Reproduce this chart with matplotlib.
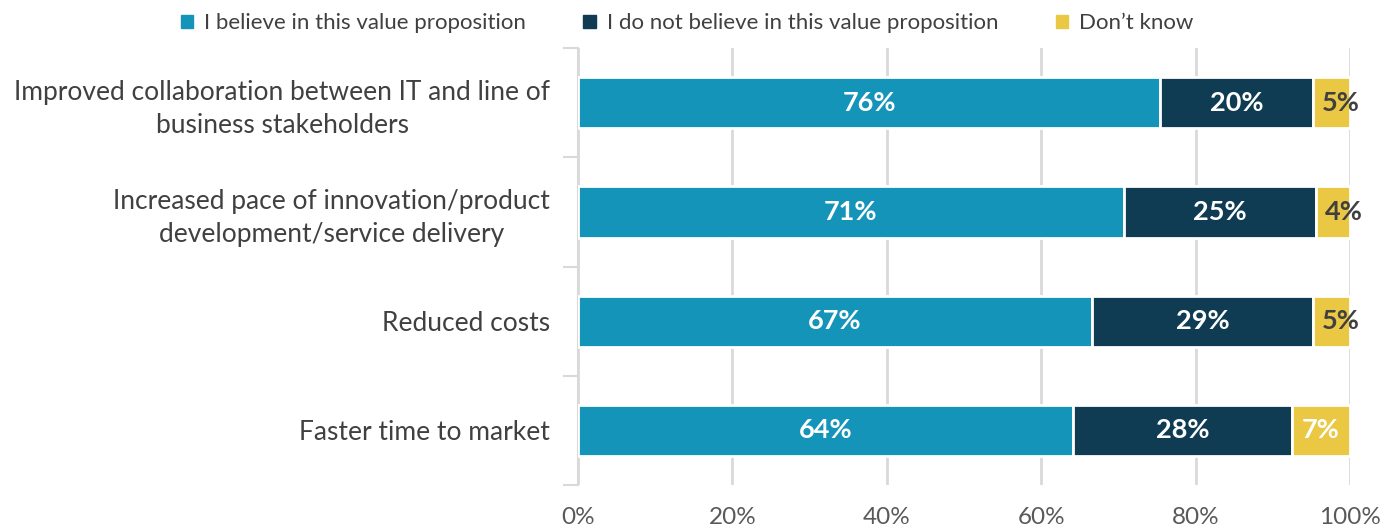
import numpy as np
import matplotlib.pyplot as plt
from matplotlib.patches import Patch

plt.rcParams['font.family'] = ['Lato', 'DejaVu Sans']

categories = ['Improved collaboration between IT and line of\nbusiness stakeholders',
              'Increased pace of innovation/product\ndevelopment/service delivery',
              'Reduced costs',
              'Faster time to market']
believe = [75.4, 70.7, 66.6, 64.1]
not_believe = [19.8, 24.9, 28.6, 28.4]
dont_know = [4.8, 4.4, 4.8, 7.5]
believe_lbl = ['76%', '71%', '67%', '64%']
not_believe_lbl = ['20%', '25%', '29%', '28%']
dont_know_lbl = ['5%', '4%', '5%', '7%']
series_names = ['I believe in this value proposition',
                'I do not believe in this value proposition',
                'Don\u2019t know']
colors = ['#1594BA', '#0F3C53', '#EAC843']

fig = plt.figure(figsize=(13.91, 5.27), dpi=100)
ax = fig.add_axes([0.4155, 0.0797, 0.555, 0.829])

y = np.arange(len(categories))
left = np.zeros(len(categories))
series = [believe, not_believe, dont_know]
labels = [believe_lbl, not_believe_lbl, dont_know_lbl]
for i, (vals, lbls) in enumerate(zip(series, labels)):
    vals = np.array(vals)
    ax.barh(y, vals, left=left, height=0.47, color=colors[i],
            edgecolor='white', linewidth=2, zorder=3)
    for j in range(len(y)):
        if i == 2 and vals[j] < 6:
            ax.text(left[j] + 1.2, y[j], lbls[j], ha='left', va='center',
                    color='#404040', fontsize=19.5, fontweight='bold', zorder=4)
        else:
            ax.text(left[j] + vals[j] / 2, y[j], lbls[j], ha='center', va='center',
                    color='white', fontsize=19.5, fontweight='bold', zorder=4)
    left = left + vals

ax.set_xlim(0, 100)
ax.set_ylim(len(categories) - 0.5, -0.5)
ax.set_xticks(np.arange(0, 101, 20))
ax.set_xticklabels([f'{v}%' for v in range(0, 101, 20)])
ax.set_yticks(y)
ax.set_yticklabels(categories, ha='right', multialignment='center', linespacing=1.4)
ax.set_yticks(np.arange(-0.5, len(categories)), minor=True)
ax.tick_params(axis='y', which='major', length=0, pad=20, labelsize=19, labelcolor='#404040')
ax.tick_params(axis='y', which='minor', length=11, width=1.5, color='#D9D9D9')
ax.tick_params(axis='x', length=0, pad=16, labelsize=17.5, labelcolor='#595959')

ax.grid(axis='x', color='#D9D9D9', linewidth=2, zorder=0)
for s in ['top', 'right', 'bottom']:
    ax.spines[s].set_visible(False)
ax.spines['left'].set_color('#D9D9D9')
ax.spines['left'].set_linewidth(1.5)

handles = [Patch(color=c) for c in colors]
fig.legend(handles, series_names, loc='center', bbox_to_anchor=(0.494, 0.956), ncol=3,
           frameon=False, fontsize=16, handlelength=0.55, handleheight=0.55,
           handletextpad=0.5, columnspacing=2.6, labelcolor='#404040')

fig.savefig('out.png', dpi=100)
